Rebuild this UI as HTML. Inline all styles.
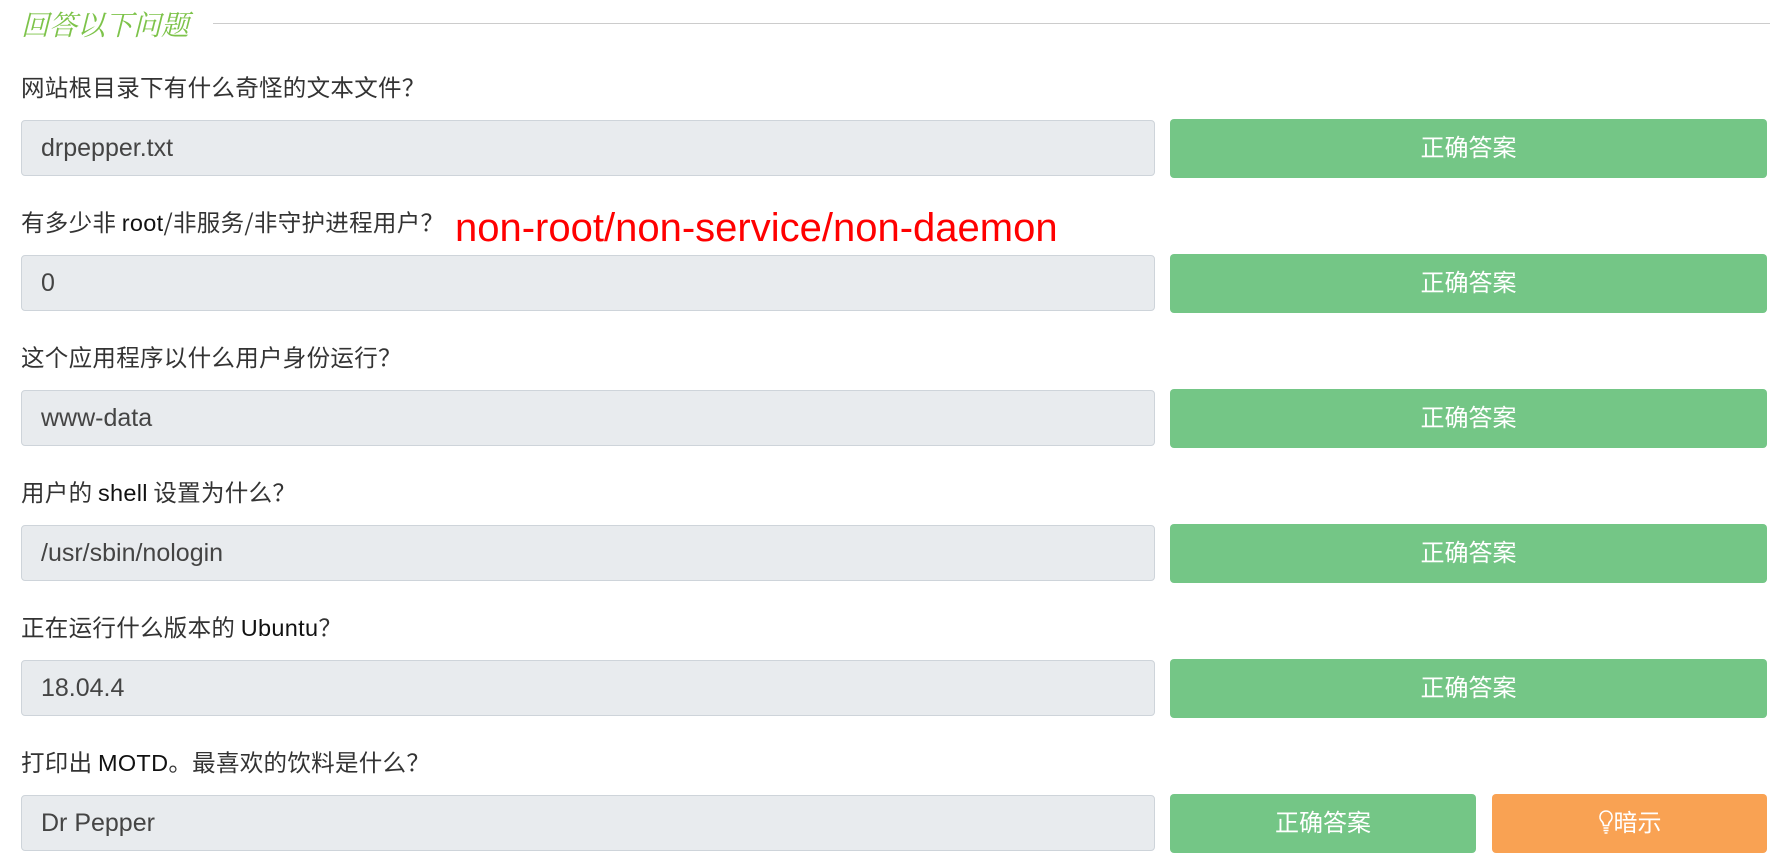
<!DOCTYPE html>
<html><head><meta charset="utf-8"><style>
body{margin:0;width:1790px;height:867px;background:#fff;font-family:"Liberation Sans","Noto Sans CJK SC",sans-serif;position:relative;overflow:hidden;color:#333}
.t{position:absolute;left:21px;top:4px;font-size:28px;font-style:italic;color:#7dc34a;font-family:"Noto Serif CJK SC","Noto Sans CJK SC",serif}
.hr{position:absolute;left:213px;right:20px;top:23px;border-top:1px solid #ccc}
.q{position:absolute;left:21px;font-size:23.5px;color:#333;font-family:"Noto Sans CJK SC","Liberation Sans",sans-serif;letter-spacing:0.3px}
.q b{font-weight:normal;color:#111;font-family:"Liberation Sans",sans-serif}
.in{position:absolute;left:21px;width:1134px;height:56px;background:#e8ebee;border:1px solid #ced4da;border-radius:4px;box-sizing:border-box;font-size:25px;color:#444;padding-left:19px;line-height:54px}
.btn{position:absolute;left:1170px;width:597px;height:59px;background:#74c686;border-radius:4px;color:#fff;font-size:24px;text-align:center;line-height:59px}
.red{position:absolute;left:455px;top:206px;font-size:40px;color:#f00}
</style></head><body>
<div class="t">回答以下问题</div><div class="hr"></div>

<div class="q" style="top:69px">网站根目录下有什么奇怪的文本文件？</div>
<div class="in" style="top:120px">drpepper.txt</div>
<div class="btn" style="top:119px">正确答案</div>

<div class="q" style="top:204px">有多少非 <b>root</b>/非服务/非守护进程用户？</div>
<div class="red">non-root/non-service/non-daemon</div>
<div class="in" style="top:255px">0</div>
<div class="btn" style="top:254px">正确答案</div>

<div class="q" style="top:339px">这个应用程序以什么用户身份运行？</div>
<div class="in" style="top:390px">www-data</div>
<div class="btn" style="top:389px">正确答案</div>

<div class="q" style="top:474px">用户的 <b>shell</b> 设置为什么？</div>
<div class="in" style="top:525px">/usr/sbin/nologin</div>
<div class="btn" style="top:524px">正确答案</div>

<div class="q" style="top:609px">正在运行什么版本的 <b>Ubuntu</b>？</div>
<div class="in" style="top:660px">18.04.4</div>
<div class="btn" style="top:659px">正确答案</div>

<div class="q" style="top:744px">打印出 <b>MOTD</b>。最喜欢的饮料是什么？</div>
<div class="in" style="top:795px">Dr Pepper</div>
<div class="btn" style="top:794px;width:306px">正确答案</div>
<div class="btn" style="top:794px;left:1492px;width:275px;background:#f9a253"><svg width="16" height="26" viewBox="0 0 16 26" style="vertical-align:-4px"><path d="M8 2a6 6 0 0 0-4 10.5c1 1 1.5 2.5 1.5 4h5c0-1.5.5-3 1.5-4A6 6 0 0 0 8 2z" fill="none" stroke="#fff" stroke-width="1.6"/><path d="M5.5 19h5M5.5 21.5h5M6.5 24h3" stroke="#fff" stroke-width="1.6"/></svg>暗示</div>
</body></html>
